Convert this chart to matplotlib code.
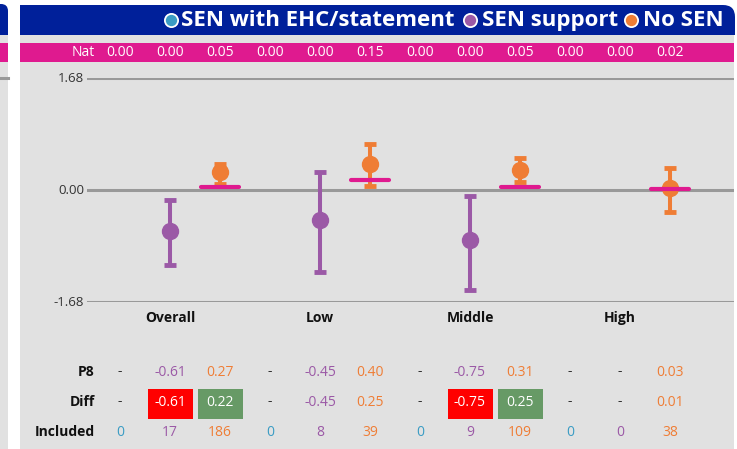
import matplotlib
matplotlib.use('Agg')
import matplotlib.pyplot as plt
import matplotlib.patches as patches
from matplotlib.path import Path
from matplotlib.transforms import blended_transform_factory

plt.rcParams['font.family'] = ['Open Sans', 'DejaVu Sans']

# data
groups = ['Overall', 'Low', 'Middle', 'High']
series = ['SEN with EHC/statement', 'SEN support', 'No SEN']
series_colors = ['#3a9cc4', '#9b59a6', '#ef7d35']

nat = [0.00, 0.00, 0.05, 0.00, 0.00, 0.15, 0.00, 0.00, 0.05, 0.00, 0.00, 0.02]
p8 = [None, -0.61, 0.27, None, -0.45, 0.40, None, -0.75, 0.31, None, None, 0.03]
ci_low = [None, -1.12, 0.10, None, -1.22, 0.07, None, -1.49, 0.12, None, None, -0.33]
ci_high = [None, -0.14, 0.40, None, 0.28, 0.70, None, -0.08, 0.49, None, None, 0.34]
diff = [None, -0.61, 0.22, None, -0.45, 0.25, None, -0.75, 0.25, None, None, 0.01]
diff_sig = [0, -1, 1, 0, 0, 0, 0, -1, 1, 0, 0, 0]
included = [0, 17, 186, 0, 8, 39, 0, 9, 109, 0, 0, 38]
y_ticks = [-1.68, 0.00, 1.68]

W, H = 737, 449
BLUE = '#00209a'
MAGENTA = '#df1a8f'
GREY = '#e1e1e1'
GRID = '#999999'
DASH = '#333333'

fig = plt.figure(figsize=(W / 100, H / 100), dpi=100, facecolor='white')

# background axes in pixel units
bg = fig.add_axes([0, 0, 1, 1], zorder=0)
bg.set_xlim(0, W)
bg.set_ylim(H, 0)
bg.axis('off')


def header_path(x0, x1, y0, y1, r):
    verts = [(x0, y1), (x0, y0), (x1 - r, y0), (x1, y0), (x1, y0 + r), (x1, y1), (x0, y1)]
    codes = [Path.MOVETO, Path.LINETO, Path.LINETO, Path.CURVE3, Path.CURVE3, Path.LINETO, Path.CLOSEPOLY]
    return Path(verts, codes)


# left (cut-off) panel
bg.add_patch(patches.Rectangle((0, 35), 8, H - 35, color=GREY, lw=0))
bg.add_patch(patches.PathPatch(header_path(0, 8, 4, 35, 7), color=BLUE, lw=0))
bg.add_patch(patches.Rectangle((0, 43), 8, 19, color=MAGENTA, lw=0))
bg.plot([0, 8], [78, 78], color=GRID, lw=2.2)

# main panel
bg.add_patch(patches.Rectangle((20, 35), 714, H - 35, color=GREY, lw=0))
bg.add_patch(patches.PathPatch(header_path(20, 735, 5, 35, 12), color=BLUE, lw=0))
bg.add_patch(patches.Rectangle((20, 43), 714, 19, color=MAGENTA, lw=0))

# header legend
legend_x = [(171, 181), (470, 482), (631, 643)]
for (cx, tx), name, col in zip(legend_x, series, series_colors):
    bg.plot(cx, 20, 'o', ms=9.5, mfc=col, mec='white', mew=1.3)
    bg.text(tx, 20.5, name, color='white', fontsize=16, fontweight='bold',
            ha='left', va='center')

# plot axes
ax = fig.add_axes([87 / W, 1 - 302.3 / H, (734 - 87) / W, 224 / H], zorder=1)
ax.patch.set_alpha(0)
ax.axis('off')
ax.set_xlim(0.34, 13.28)
ax.set_ylim(-1.68, 1.68)

for t in y_ticks:
    ax.axhline(t, color=GRID, lw=2.2, zorder=1)

slots = list(range(1, len(p8) + 1))
for i, x in enumerate(slots):
    s = i % 3
    if p8[i] is None:
        continue
    col = series_colors[s]
    ax.errorbar([x], [p8[i]], yerr=[[p8[i] - ci_low[i]], [ci_high[i] - p8[i]]],
                fmt='o', ms=11.5, color=col, ecolor=col, elinewidth=2.9,
                capsize=4, capthick=3.5, clip_on=False, zorder=3)
    if s == 2:
        ax.hlines(nat[i], x - 0.38, x + 0.38, color=MAGENTA, lw=3,
                  capstyle='round', zorder=4)

# y tick labels
ty = blended_transform_factory(bg.transData, ax.transData)
for t in y_ticks:
    bg.text(84, t, f'{t:.2f}', transform=ty, ha='right', va='center',
            fontsize=9.5, color='#333333')

# text rows
tx = blended_transform_factory(ax.transData, bg.transData)
bg.text(95, 53, 'Nat', ha='right', va='center', fontsize=10, color='white')
for x, v in zip(slots, nat):
    bg.text(x, 53, f'{v:.2f}', transform=tx, ha='center', va='center',
            fontsize=10, color='white')

for k, g in enumerate(groups):
    bg.text(slots[3 * k + 1], 318, g, transform=tx, ha='center', va='center',
            fontsize=10, fontweight='bold', color='#111111')

rows = [('P8', 372), ('Diff', 402), ('Included', 432)]
for label, y in rows:
    bg.text(95, y, label, ha='right', va='center', fontsize=10,
            fontweight='bold', color='#111111')

for i, x in enumerate(slots):
    col = series_colors[i % 3]
    # P8
    if p8[i] is None:
        bg.text(x, 371, '-', transform=tx, ha='center', va='center', fontsize=10, color=DASH)
    else:
        bg.text(x, 372, f'{p8[i]:.2f}', transform=tx, ha='center', va='center',
                fontsize=10, color=col)
    # Diff
    if diff[i] is None:
        bg.text(x, 401, '-', transform=tx, ha='center', va='center', fontsize=10, color=DASH)
    elif diff_sig[i] != 0:
        box_col = '#ff0000' if diff_sig[i] < 0 else '#679a66'
        bg.add_patch(patches.Rectangle((x - 0.45, 389), 0.9, 30, transform=tx,
                                       color=box_col, lw=0))
        bg.text(x, 402, f'{diff[i]:.2f}', transform=tx, ha='center', va='center',
                fontsize=10, color='white')
    else:
        bg.text(x, 402, f'{diff[i]:.2f}', transform=tx, ha='center', va='center',
                fontsize=10, color=col)
    # Included
    bg.text(x, 432, str(included[i]), transform=tx, ha='center', va='center',
            fontsize=10, color=col)

fig.savefig('out.png', dpi=100, facecolor='white')
